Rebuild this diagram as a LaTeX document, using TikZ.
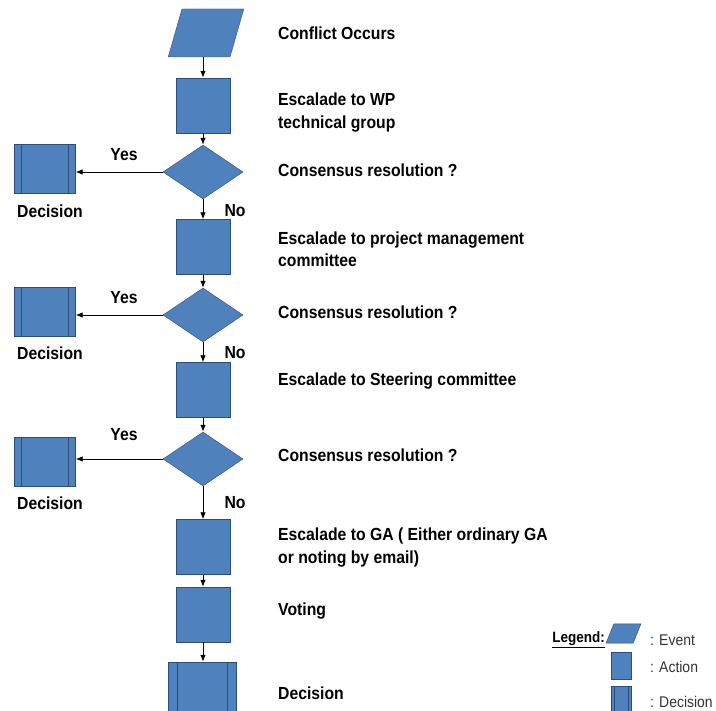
\documentclass[tikz,border=0pt]{standalone}
\usepackage{fontspec}
\setmainfont{Liberation Sans}[FakeStretch=0.9]
\usetikzlibrary{shapes,arrows.meta}
\definecolor{boxfill}{RGB}{79,129,189}
\definecolor{boxline}{RGB}{44,77,117}

\begin{document}
\begin{tikzpicture}[x=1pt,y=-1pt,
    event/.style={trapezium, trapezium left angle=74, trapezium right angle=106,
      draw=boxline, fill=boxfill, inner sep=1pt,
      minimum width=74, minimum height=48},
    action/.style={rectangle, draw=boxline, fill=boxfill, inner sep=0pt,
      minimum width=54, minimum height=55},
    test/.style={diamond, draw=boxline, fill=boxfill, inner sep=0pt,
      minimum width=80, minimum height=54},
    outcome/.style={rectangle, draw=boxline, fill=boxfill, inner sep=0pt,
      minimum width=61, minimum height=49,
      path picture={
        \draw[boxline] ([xshift=#1]path picture bounding box.north west) -- ([xshift=#1]path picture bounding box.south west);
        \draw[boxline] ([xshift=-#1]path picture bounding box.north east) -- ([xshift=-#1]path picture bounding box.south east);
      }},
    outcome/.default=7pt,
    flow/.style={-{Latex[length=7pt,width=5.5pt]}, line width=0.8pt},
    notetext/.style={anchor=west, align=left, inner sep=0pt,
      font=\bfseries\fontsize{17.5}{22.5}\selectfont},
    answer/.style={inner sep=0pt, font=\bfseries\fontsize{17.5}{20}\selectfont},
    legendtext/.style={anchor=west, inner sep=0pt, text=black!80,
      font=\fontsize{15.5}{18}\selectfont}]

    \useasboundingbox (0,0) rectangle (716,711);
    \clip (0,0) rectangle (716,711);

    % flow boxes
    \node [event] (occur) at (206,33) {};
    \node [action] (wp) at (203,105.5) {};
    \node [test] (q1) at (203,172) {};
    \node [outcome] (d1) at (45,168.5) {};
    \node [action] (pmc) at (203,247) {};
    \node [test] (q2) at (203,315) {};
    \node [outcome] (d2) at (45,312) {};
    \node [action] (sc) at (203,390) {};
    \node [test] (q3) at (203,459) {};
    \node [outcome] (d3) at (45,461.5) {};
    \node [action] (ga) at (203,547) {};
    \node [action] (vote) at (203,614.5) {};
    \node [outcome=9pt, minimum width=68, minimum height=54] (final) at (202,689) {};

    % connectors
    \draw [flow] (wp |- occur.south) -- (wp);
    \draw [flow] (wp) -- (q1);
    \draw [flow] (q1) -- (pmc);
    \draw [flow] (q1.west) -- (d1.east |- q1.west);
    \draw [flow] (pmc) -- (q2);
    \draw [flow] (q2) -- (sc);
    \draw [flow] (q2.west) -- (d2.east |- q2.west);
    \draw [flow] (sc) -- (q3);
    \draw [flow] (q3) -- (ga);
    \draw [flow] (q3.west) -- (d3.east |- q3.west);
    \draw [flow] (ga) -- (vote);
    \draw [flow] (vote) -- (final.north -| vote);

    % yes / no
    \node [answer] (yes1) at (124,155) {Yes};
    \node [answer] (yes2) at (124,298) {Yes};
    \node [answer] (yes3) at (124,435) {Yes};
    \node [answer] (no1) at (235,211) {No};
    \node [answer] (no2) at (235,353) {No};
    \node [answer] (no3) at (235,503) {No};
    \node [answer] (dtext1) at (50,211) {Decision};
    \node [answer] (dtext2) at (50,353) {Decision};
    \node [answer] (dtext3) at (50,503) {Decision};

    % right column texts
    \node [notetext] (t1) at (278,33) {Conflict Occurs};
    \node [notetext] (t2) at (278,112.5) {Escalade to WP\\technical group};
    \node [notetext] (t3) at (278,170) {Consensus resolution ?};
    \node [notetext] (t4) at (278,249) {Escalade to project management\\committee};
    \node [notetext] (t5) at (278,312) {Consensus resolution ?};
    \node [notetext] (t6) at (278,381) {Escalade to Steering committee};
    \node [notetext] (t7) at (278,455) {Consensus resolution ?};
    \node [notetext] (t8) at (278,547.5) {Escalade to GA ( Either ordinary GA\\or noting by email)};
    \node [notetext] (t9) at (278,611) {Voting};
    \node [notetext] (t10) at (278,693) {Decision};

    % legend
    \node [anchor=east, inner sep=0pt, font=\bfseries\fontsize{15}{17}\selectfont] (legend) at (605,640) {\underline{Legend:}};
    \node [event, trapezium left angle=68, trapezium right angle=112,
      minimum width=35, minimum height=17] (legevent) at (623.5,633.5) {};
    \node [action, minimum width=20, minimum height=27] (legaction) at (621,665.5) {};
    \node [outcome=3pt, minimum width=20, minimum height=30] (legdecision) at (621,701) {};
    \node [legendtext] (levent) at (650,640) {: Event};
    \node [legendtext] (laction) at (650,667) {: Action};
    \node [legendtext] (ldecision) at (650,702) {: Decision};
  \end{tikzpicture}
\end{document}
